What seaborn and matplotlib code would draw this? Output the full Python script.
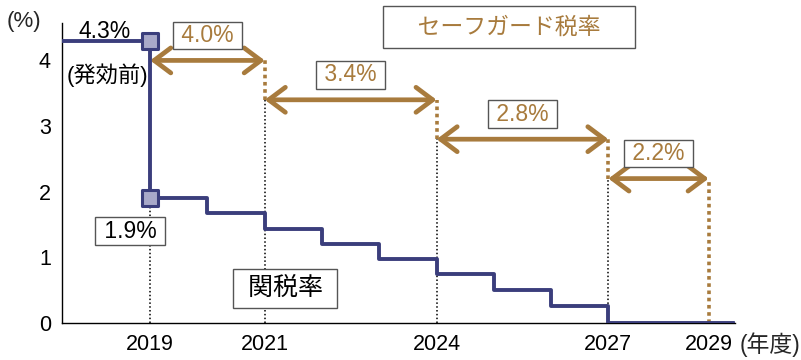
import matplotlib
matplotlib.use("Agg")
import matplotlib.pyplot as plt
import seaborn as sns
import pandas as pd

# ---- data ----
tariff_x = [2017.46, 2019, 2020, 2021, 2022, 2023, 2024, 2025, 2026, 2027, 2029.2]
tariff_y = [4.3, 1.9, 1.67, 1.43, 1.2, 0.97, 0.74, 0.5, 0.26, 0.0, 0.0]
marker_x = [2019, 2019]
marker_y = [4.3, 1.9]
sg_rates = [4.0, 3.4, 2.8, 2.2]
sg_labels = ["4.0%", "3.4%", "2.8%", "2.2%"]
sg_start = [2019, 2021, 2024, 2027]
sg_end = [2021, 2024, 2027, 2028.75]
tick_pos = [2019, 2021, 2024, 2027, 2028.75]
tick_labels = ["2019", "2021", "2024", "2027", "2029"]
y_ticks = [0, 1, 2, 3, 4]

NAVY = "#3b3e7c"
BROWN = "#a87b3d"
BOXEDGE = "#555555"

sns.set_theme(style="white")
plt.rcParams["font.family"] = ["Liberation Sans", "Noto Sans CJK JP"]

fig = plt.figure(figsize=(8.01, 3.60), dpi=100)
ax = fig.add_axes([62 / 801, 1 - 323 / 360, (735 - 62) / 801, (323 - 23) / 360])

df = pd.DataFrame({"x": tariff_x, "y": tariff_y})
sns.lineplot(data=df, x="x", y="y", ax=ax, color=NAVY, lw=2.8,
             drawstyle="steps-post", sort=False, estimator=None, zorder=4)

# vertical dotted guides
dot_black = dict(color="black", lw=1.1, ls=(0, (1, 1.5)), zorder=2)
dot_brown = dict(color=BROWN, lw=2.6, ls=(0, (1, 1)), zorder=2)
ax.vlines(sg_start[0], 0, tariff_y[1], **dot_black)
for i in range(len(sg_rates)):
    nxt = sg_rates[i + 1] if i + 1 < len(sg_rates) else 0.0
    ax.vlines(sg_end[i], nxt, sg_rates[i], **dot_brown)
    if nxt > 0:
        ax.vlines(sg_end[i], 0, nxt, **dot_black)

# double arrows + labels
for s, e, r, lab in zip(sg_start, sg_end, sg_rates, sg_labels):
    ax.annotate("", xy=(e, r), xytext=(s, r),
                arrowprops=dict(arrowstyle="<->,head_length=0.6,head_width=0.45",
                                color=BROWN, lw=3.4, shrinkA=0, shrinkB=0,
                                mutation_scale=20), zorder=3)
    ax.text((s + e) / 2, r + 0.38, " " + lab + " ", ha="center", va="center",
            fontsize=16.5, color=BROWN,
            bbox=dict(boxstyle="square,pad=0.1", fc="white", ec=BOXEDGE, lw=1.0),
            zorder=5)

sns.scatterplot(x=marker_x, y=marker_y, ax=ax, marker="s", s=120,
                color="#a9a9c9", edgecolor=NAVY, linewidth=2.2, zorder=6)

# annotations
ax.text(2018.21, 4.44, "4.3%", ha="center", va="center", fontsize=16.5, color="black")
ax.text(2018.25, 3.78, "(発効前)", ha="center", va="center", fontsize=16, color="black")
ax.text(2018.65, 1.40, " 1.9% ", ha="center", va="center", fontsize=16.5, color="black",
        bbox=dict(boxstyle="square,pad=0.12", fc="white", ec=BOXEDGE, lw=1.0), zorder=5)
ax.text(2021.36, 0.53, " 関税率 ", ha="center", va="center", fontsize=18, color="black",
        bbox=dict(boxstyle="square,pad=0.3", fc="white", ec=BOXEDGE, lw=1.0), zorder=5)
ax.text(2025.27, 4.51, "    セーフガード税率    ", ha="center", va="center", fontsize=16.5,
        color=BROWN,
        bbox=dict(boxstyle="square,pad=0.4", fc="white", ec=BOXEDGE, lw=1.0), zorder=5)

ax.set_xlim(2017.46, 2029.21)
ax.set_ylim(0, 4.57)
ax.set_xticks(tick_pos)
ax.set_xticklabels(tick_labels)
ax.set_yticks(y_ticks)
ax.set_xlabel("")
ax.set_ylabel("")
ax.tick_params(axis="both", length=0, labelsize=15.5, colors="black")
ax.tick_params(axis="x", pad=8)
ax.tick_params(axis="y", pad=8)
for side in ["top", "right"]:
    ax.spines[side].set_visible(False)
for side in ["left", "bottom"]:
    ax.spines[side].set_color("black")
    ax.spines[side].set_linewidth(1.0)
ax.set_facecolor("white")

fig.text(24 / 801, 1 - 22 / 360, "(%)", ha="center", va="center", fontsize=16)
fig.text(770 / 801, 1 - 345 / 360, "(年度)", ha="center", va="center", fontsize=16.5)

fig.savefig("out.png", dpi=100, facecolor="white")
